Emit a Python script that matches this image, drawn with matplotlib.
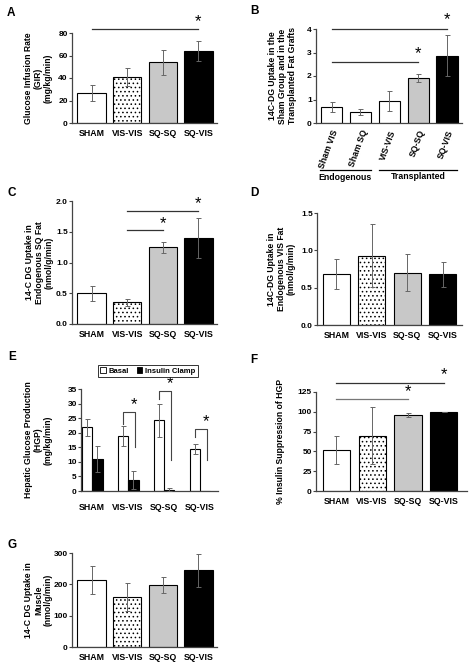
import matplotlib
matplotlib.use('Agg')
import matplotlib.pyplot as plt
from matplotlib.patches import Patch

plt.rcParams['font.family'] = ['Liberation Sans', 'DejaVu Sans']
plt.rcParams['font.weight'] = 'bold'
plt.rcParams['axes.labelweight'] = 'bold'
plt.rcParams['hatch.linewidth'] = 0.6

W, H = 474, 666

# ---- data ----
groups = ['SHAM', 'VIS-VIS', 'SQ-SQ', 'SQ-VIS']
gir = [27, 41, 54, 64]
gir_err = [7, 8, 11, 9]

b_groups = ['Sham VIS', 'Sham SQ', 'VIS-VIS', 'SQ-SQ', 'SQ-VIS']
b_vals = [0.67, 0.48, 0.93, 1.93, 2.87]
b_err = [0.21, 0.12, 0.42, 0.17, 0.87]

sq_fat = [0.50, 0.35, 1.25, 1.40]
sq_fat_err = [0.12, 0.05, 0.09, 0.33]

vis_fat = [0.68, 0.93, 0.70, 0.68]
vis_fat_err = [0.20, 0.42, 0.25, 0.17]

hgp_basal = [21.8, 19.0, 24.2, 14.4]
hgp_basal_err = [3.0, 3.4, 5.5, 1.7]
hgp_clamp = [11.0, 3.8, 0.5, 0.0]
hgp_clamp_err = [4.5, 3.2, 0.4, 0.0]
# brackets in E: group index, top, left end, right end
e_brk_group = [1, 2, 3]
e_brk_top = [27.0, 34.4, 21.4]
e_brk_left = [23.0, 31.4, 18.5]
e_brk_right = [15.0, 10.6, 10.6]

supp = [52, 70, 96, 100]
supp_err = [18, 36, 2, 0]

muscle = [215, 160, 198, 245]
muscle_err = [45, 45, 25, 52]

face = ['white', 'white', '#c8c8c8', 'black']
hatch = [None, '....', None, None]
b_face = ['white', 'white', 'white', '#c8c8c8', 'black']

fig = plt.figure(figsize=(W / 100, H / 100), dpi=100)


def add_ax(l, t, r, b):
    return fig.add_axes([l / W, 1 - b / H, (r - l) / W, (b - t) / H])


def style(ax):
    for s in ['top', 'right']:
        ax.spines[s].set_visible(False)
    for s in ['left', 'bottom']:
        ax.spines[s].set_color('#444444')
        ax.spines[s].set_linewidth(0.9)
    ax.tick_params(axis='y', labelsize=6.0, width=0.8, length=2.2, color='#444444', pad=0.8)
    ax.tick_params(axis='x', labelsize=6.3, length=0, pad=4)


def ylab(ax, text, l, r, right_px):
    ax.set_ylabel(text, fontsize=6.2, linespacing=1.15)
    ax.yaxis.set_label_coords((right_px - l) / (r - l), 0.5)


def bars4(ax, vals, err, width=0.8):
    x = range(len(vals))
    for i in x:
        ax.bar(i, vals[i], width, color=face[i], edgecolor='black', linewidth=0.8,
               hatch=hatch[i], zorder=2)
    ax.errorbar(list(x), vals, yerr=err, fmt='none', ecolor='#666666', elinewidth=0.7,
                capsize=1.8, capthick=0.7, zorder=3)
    ax.set_xticks(list(x))
    ax.set_xticklabels(groups)


def sig(ax, x0, x1, y, ystar, color='#333333'):
    ax.plot([x0, x1], [y, y], color=color, lw=0.9, clip_on=False)
    ax.text(x1, ystar, '*', fontsize=12, fontweight='normal', ha='center', va='center',
            clip_on=False)


def letter(x, y, s):
    fig.text(x / W, 1 - y / H, s, fontsize=8.5, fontweight='bold', ha='left', va='center')


# ---- A ----
ax = add_ax(72, 33, 217, 123)
style(ax)
bars4(ax, gir, gir_err)
ax.set_ylim(0, 80)
ax.set_yticks([0, 20, 40, 60, 80])
ax.set_xlim(-0.55, 3.52)
ylab(ax, 'Glucose Infusion Rate\n(GIR)\n(mg/kg/min)', 72, 217, 53)
sig(ax, 0, 3, 83.6, 90.5)
letter(7, 13, 'A')

# ---- B ----
ax = add_ax(316, 29, 462, 123)
style(ax)
for i in range(5):
    ax.bar(i, b_vals[i], 0.73, color=b_face[i], edgecolor='black', linewidth=0.8, zorder=2)
ax.errorbar(list(range(5)), b_vals, yerr=b_err, fmt='none', ecolor='#666666',
            elinewidth=0.7, capsize=1.8, capthick=0.7, zorder=3)
ax.set_ylim(0, 4)
ax.set_yticks([0, 1, 2, 3, 4])
ax.set_xlim(-0.54, 4.52)
ax.set_xticks(range(5))
ax.set_xticklabels(b_groups, rotation=70, ha='right', va='top', rotation_mode='anchor')
ylab(ax, '14C-DG Uptake in the\nSham Group and in the\nTransplanted Fat Grafts', 316, 462, 297)
sig(ax, 0, 4, 4.0, 4.38)
sig(ax, 0, 3, 2.61, 2.97)
ax.plot([-0.4, 1.36], [-2.0, -2.0], color='black', lw=0.9, clip_on=False)
ax.plot([1.65, 4.35], [-2.0, -2.0], color='black', lw=0.9, clip_on=False)
ax.text(0.48, -2.3, 'Endogenous', fontsize=6.3, ha='center', va='center')
ax.text(3.0, -2.27, 'Transplanted', fontsize=6.3, ha='center', va='center')
letter(250, 11, 'B')

# ---- C ----
ax = add_ax(72, 201, 217, 324)
style(ax)
bars4(ax, sq_fat, sq_fat_err)
ax.set_ylim(0, 2.0)
ax.set_yticks([0, 0.5, 1.0, 1.5, 2.0])
ax.set_yticklabels(['0.0', '0.5', '1.0', '1.5', '2.0'])
ax.set_xlim(-0.55, 3.52)
ylab(ax, '14-C DG Uptake in\nEndogenous SQ Fat\n(nmol/g/min)', 72, 217, 54)
sig(ax, 1, 3, 1.835, 1.95)
sig(ax, 1, 2, 1.527, 1.64)
letter(8, 193, 'C')

# ---- D ----
ax = add_ax(317, 213, 462, 325)
style(ax)
bars4(ax, vis_fat, vis_fat_err, width=0.77)
ax.set_ylim(0, 1.5)
ax.set_yticks([0, 0.5, 1.0, 1.5])
ax.set_yticklabels(['0.0', '0.5', '1.0', '1.5'])
ax.set_xlim(-0.55, 3.55)
ylab(ax, '14C-DG Uptake in\nEndogenous VIS Fat\n(nmol/g/min)', 317, 462, 296)
letter(250, 193, 'D')

# ---- E ----
ax = add_ax(81, 389, 218, 491)
style(ax)
xg = list(range(4))
bw = 0.29
ax.bar([x - bw / 2 for x in xg], hgp_basal, bw, color='white', edgecolor='black',
       linewidth=0.8, zorder=2)
ax.bar([x + bw / 2 for x in xg], hgp_clamp, bw, color='black', edgecolor='black',
       linewidth=0.8, zorder=2)
ax.errorbar([x - bw / 2 for x in xg], hgp_basal, yerr=hgp_basal_err, fmt='none',
            ecolor='#666666', elinewidth=0.7, capsize=1.8, capthick=0.7, zorder=3)
ax.errorbar([x + bw / 2 for x in xg[:3]], hgp_clamp[:3], yerr=hgp_clamp_err[:3], fmt='none',
            ecolor='#666666', elinewidth=0.7, capsize=1.8, capthick=0.7, zorder=3)
for g, top, lo, ro in zip(e_brk_group, e_brk_top, e_brk_left, e_brk_right):
    xl, xr = g - bw / 2, g + bw / 2 + 0.05
    ax.plot([xl, xl, xr, xr], [lo, top, top, ro], color='#444444', lw=0.8, clip_on=False)
    ax.text(xr - 0.02, top + 2.5, '*', fontsize=12, fontweight='normal', ha='center',
            va='center', clip_on=False)
ax.set_ylim(0, 35)
ax.set_yticks(range(0, 36, 5))
ax.set_xlim(-0.31, 3.5)
ax.set_xticks(xg)
ax.set_xticklabels(groups)
ax.tick_params(axis='x', pad=9)
ylab(ax, 'Hepatic Glucose Production\n(HGP)\n(mg/kg/min)', 81, 218, 53)
handles = [Patch(facecolor='white', edgecolor='black', linewidth=0.6, label='Basal'),
           Patch(facecolor='black', edgecolor='black', linewidth=0.6, label='Insulin Clamp')]
leg = fig.legend(handles=handles, loc='center', bbox_to_anchor=(148 / W, 1 - 371 / H),
                 ncol=2, fontsize=5.5, frameon=True, fancybox=False, handlelength=0.7,
                 handleheight=0.7, handletextpad=0.4, columnspacing=1.0, borderpad=0.3,
                 borderaxespad=0)
leg.get_frame().set_edgecolor('black')
leg.get_frame().set_linewidth(0.7)
letter(8, 357, 'E')

# ---- F ----
ax = add_ax(316, 392, 467, 491)
style(ax)
bars4(ax, supp, supp_err, width=0.76)
ax.set_ylim(0, 125)
ax.set_yticks(range(0, 126, 25))
ax.set_xlim(-0.57, 3.65)
ylab(ax, '% Insulin Suppression of HGP', 316, 467, 285)
sig(ax, 0, 3, 136.7, 146.5)
sig(ax, 0, 2, 116, 125, color='#777777')
letter(250, 360, 'F')

# ---- G ----
ax = add_ax(72, 553, 217, 647)
style(ax)
bars4(ax, muscle, muscle_err)
ax.set_ylim(0, 300)
ax.set_yticks([0, 100, 200, 300])
ax.set_xlim(-0.55, 3.52)
ylab(ax, '14-C DG Uptake in\nMuscle\n(nmol/g/min)', 72, 217, 53)
letter(8, 545, 'G')

fig.savefig('out.png', dpi=100)
